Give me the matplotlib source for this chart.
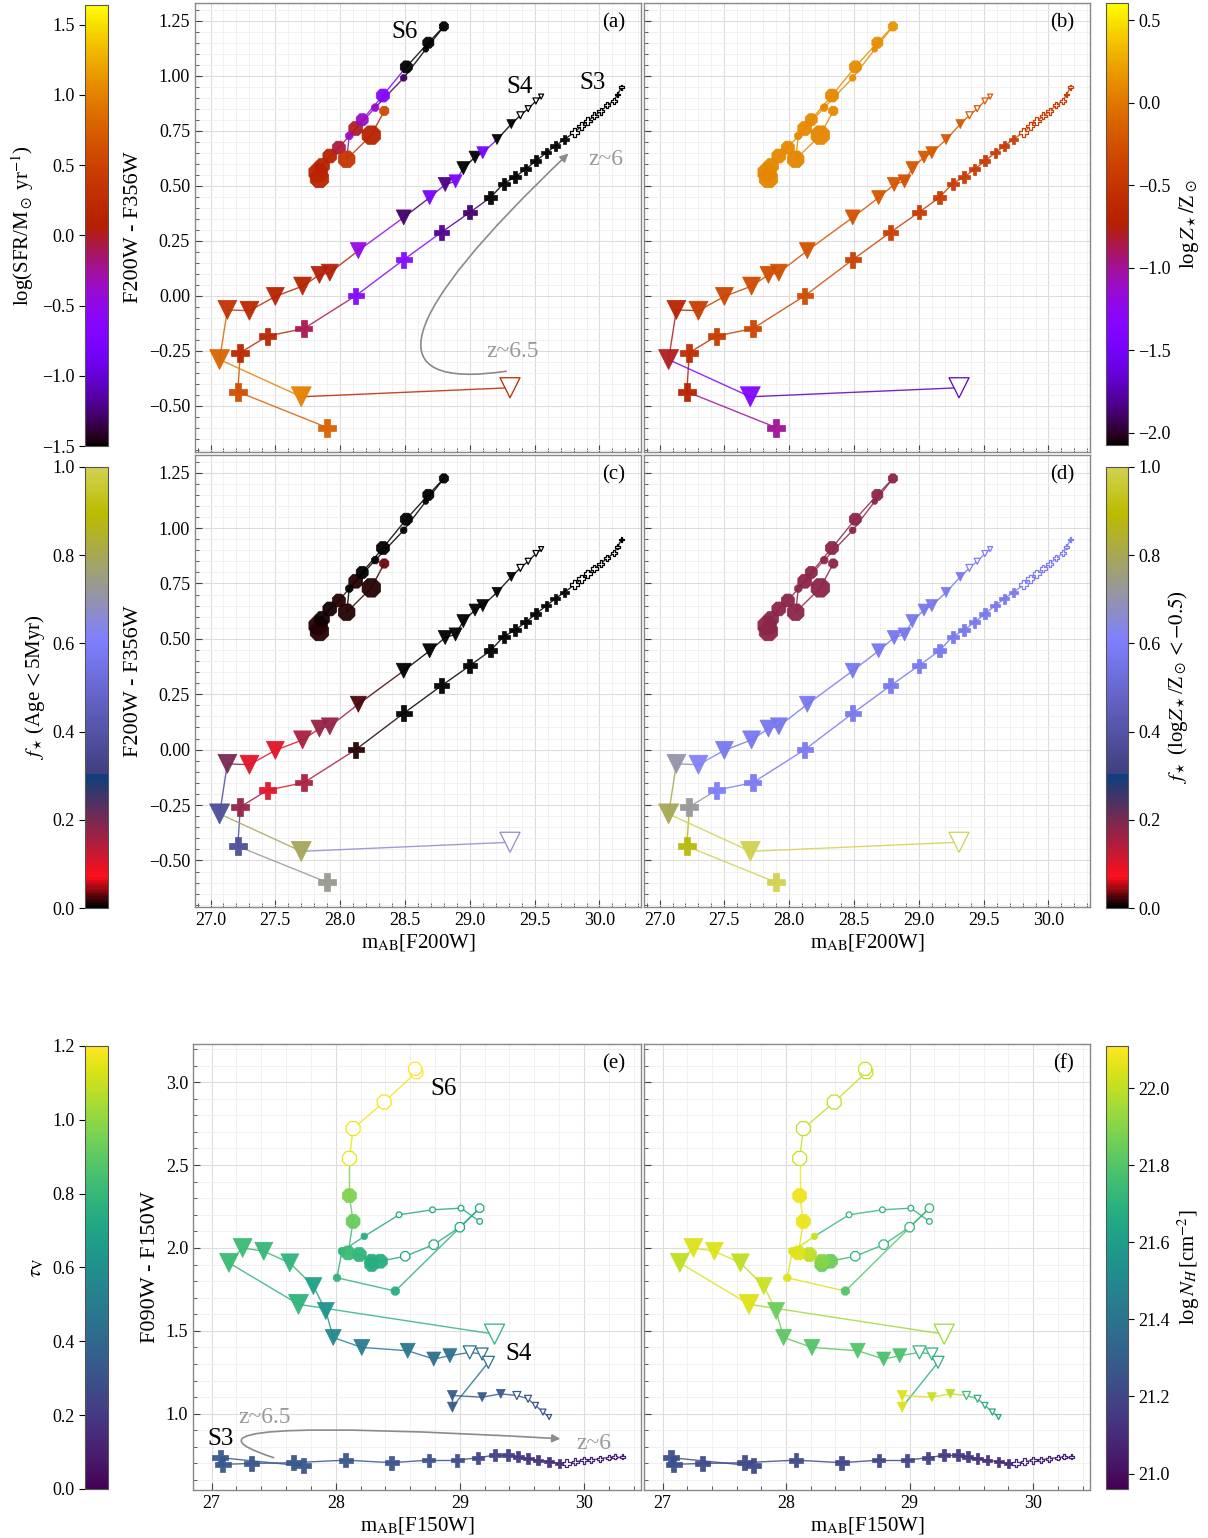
import numpy as np
import matplotlib
matplotlib.use("Agg")
import matplotlib.pyplot as plt
from matplotlib.colors import Normalize, ListedColormap
from matplotlib.collections import LineCollection
from matplotlib.patches import FancyArrowPatch
from matplotlib.path import Path
from matplotlib.ticker import MultipleLocator
from matplotlib.cm import ScalarMappable

plt.rcParams['font.family'] = ['Liberation Serif', 'DejaVu Serif']
plt.rcParams['mathtext.fontset'] = 'stix'

# ---------------- data: F200W vs F200W-F356W (panels a-d) ----------------
s6_x = [27.84, 27.83, 27.86, 27.92, 27.99, 28.12, 28.17, 28.33, 28.51, 28.68,
        28.80, 28.66, 28.49, 28.27, 28.07, 28.05, 28.24, 28.34]
s6_y = [0.533, 0.560, 0.590, 0.635, 0.673, 0.760, 0.800, 0.910, 1.040, 1.150,
        1.224, 1.120, 0.990, 0.855, 0.727, 0.620, 0.730, 0.840]
s6_sfr = [0.15, 0.15, 0.12, 0.12, -0.05, 0.0, -0.35, -0.7, -1.6, -1.6,
          -1.6, -1.6, -1.3, -0.45, -0.35, 0.35, 0.1, 0.55]
s6_z = [0.08, 0.08, 0.1, 0.1, 0.1, 0.1, 0.1, 0.1, 0.12, 0.12,
        0.15, 0.12, 0.12, 0.1, 0.1, 0.08, 0.08, 0.1]
s6_fage = [0.012, 0.012, 0.008, 0.008, 0.012, 0.012, 0.0, 0.0, 0.0, 0.0,
           0.0, 0.0, 0.0, 0.0, 0.0, 0.015, 0.012, 0.035]
s6_fz = [0.18] * 18
s6_open = [0] * 18
s6_size = [20, 20, 16, 15, 14, 15, 13, 14, 13, 12, 10, 6, 7, 8, 8, 18, 20, 10]

s4_x = [29.31, 27.70, 27.07, 27.13, 27.30, 27.50, 27.71, 27.84, 27.92, 28.14,
        28.49, 28.69, 28.81, 28.89, 28.95, 29.04, 29.10, 29.21, 29.32, 29.39,
        29.45, 29.51, 29.55]
s4_y = [-0.418, -0.459, -0.290, -0.064, -0.068, -0.003, 0.044, 0.095, 0.105, 0.205,
        0.356, 0.446, 0.506, 0.520, 0.580, 0.630, 0.650, 0.710, 0.780, 0.820,
        0.850, 0.885, 0.905]
s4_sfr = [0.15, 1.0, 0.8, 0.32, 0.18, 0.1, 0.1, 0.05, 0.05, -0.46,
          -1.28, -0.81, -1.22, -0.75, -1.6, -1.6, -0.8, -1.6, -1.6, -1.6,
          -1.6, -1.6, -1.6]
s4_z = [-1.7, -1.4, -0.78, -0.68, -0.42, -0.35, -0.3, -0.28, -0.28, -0.25,
        -0.25, -0.22, -0.22, -0.25, -0.2, -0.2, -0.2, -0.2, -0.18, -0.18,
        -0.18, -0.18, -0.18]
s4_fage = [0.67, 0.79, 0.37, 0.2, 0.1, 0.1, 0.15, 0.17, 0.17, 0.02,
           0.0, 0.0, 0.0, 0.0, 0.0, 0.0, 0.0, 0.0, 0.0, 0.0, 0.0, 0.0, 0.0]
s4_fz = [1.0, 1.0, 0.8, 0.7, 0.62, 0.57, 0.57, 0.57, 0.57, 0.57,
         0.57, 0.57, 0.57, 0.57, 0.57, 0.57, 0.57, 0.58, 0.58, 0.6,
         0.6, 0.6, 0.6]
s4_open = [1] + [0] * 18 + [1] * 4
s4_size = [20, 20, 20, 19, 19, 18, 18, 17, 17, 16, 15, 14, 14, 13, 13, 12, 12,
           10, 9, 7, 6, 6, 5]

s3_x = [27.90, 27.21, 27.23, 27.44, 27.72, 28.12, 28.49, 28.78, 29.00, 29.16,
        29.26, 29.35, 29.43, 29.51, 29.59, 29.66, 29.73, 29.81, 29.86, 29.91,
        29.96, 30.01, 30.06, 30.11, 30.14, 30.17]
s3_y = [-0.599, -0.436, -0.258, -0.183, -0.149, 0.000, 0.164, 0.288, 0.379, 0.447,
        0.510, 0.540, 0.575, 0.613, 0.650, 0.681, 0.711, 0.744, 0.771, 0.794,
        0.817, 0.839, 0.865, 0.886, 0.915, 0.948]
s3_sfr = [0.76, 0.6, 0.18, 0.15, -0.09, -0.65, -0.65, -1.19, -1.28, -1.6,
          -1.6, -1.6, -1.6, -1.6, -1.6, -1.6, -1.6, -1.6, -1.6, -1.6,
          -1.6, -1.6, -1.6, -1.6, -1.6, -1.6]
s3_z = [-1.0, -0.72, -0.6, -0.45, -0.35, -0.3, -0.4, -0.42, -0.45, -0.45,
        -0.45, -0.45, -0.45, -0.45, -0.45, -0.45, -0.42, -0.4, -0.4, -0.4,
        -0.4, -0.4, -0.4, -0.4, -0.4, -0.4]
s3_fage = [0.73, 0.37, 0.17, 0.1, 0.15, 0.015, 0.0, 0.0, 0.0, 0.0,
           0.0, 0.0, 0.0, 0.0, 0.0, 0.0, 0.0, 0.0, 0.0, 0.0,
           0.0, 0.0, 0.0, 0.0, 0.0, 0.0]
s3_fz = [1.0, 0.88, 0.72, 0.6, 0.58, 0.58, 0.57, 0.57, 0.57, 0.57,
         0.57, 0.57, 0.57, 0.57, 0.57, 0.57, 0.58, 0.6, 0.6, 0.6,
         0.6, 0.6, 0.6, 0.6, 0.6, 0.6]
s3_open = [0] * 17 + [1] * 9
s3_size = [18, 18, 18, 17, 17, 16, 16, 15, 14, 13, 12, 12, 11, 11, 10, 10, 9,
           9, 8, 8, 7, 7, 6, 6, 5, 5]

# ---------------- data: F150W vs F090W-F150W (panels e-f) ----------------
b6_x = [29.16, 29.01, 28.78, 28.51, 28.23, 28.05, 28.01, 28.48, 29.16, 29.00,
        28.79, 28.56, 28.36, 28.29, 28.29, 28.19, 28.10, 28.14, 28.11, 28.11,
        28.14, 28.39, 28.65, 28.64]
b6_y = [2.16, 2.24, 2.23, 2.20, 2.07, 1.98, 1.82, 1.74, 2.24, 2.125,
        2.02, 1.95, 1.92, 1.90, 1.92, 1.96, 1.97, 2.16, 2.315, 2.54,
        2.72, 2.88, 3.06, 3.08]
b6_tau = [0.72, 0.72, 0.72, 0.72, 0.75, 0.75, 0.78, 0.75, 0.72, 0.72,
          0.72, 0.72, 0.75, 0.75, 0.75, 0.78, 0.82, 0.92, 0.97, 1.15,
          1.17, 1.18, 1.2, 1.2]
b6_nh = [21.7, 21.7, 21.72, 21.72, 22.02, 22.05, 22.05, 21.8, 21.72, 21.72,
         21.72, 21.72, 21.85, 21.85, 21.9, 22.0, 22.05, 22.07, 22.08, 22.02,
         22.0, 22.0, 22.02, 22.02]
b6_open = [1, 1, 1, 1, 0, 0, 0, 0, 1, 1, 1, 1, 0, 0, 0, 0, 0, 0, 0, 1, 1, 1, 1, 1]
b6_size = [6, 6, 6, 6, 7, 8, 8, 9, 9, 10, 10, 10, 15, 15, 15, 15, 15, 15, 15,
           15, 15, 15, 14, 14]

b4_x = [29.28, 27.70, 27.14, 27.25, 27.42, 27.63, 27.82, 27.92, 27.98, 28.21,
        28.58, 28.79, 28.92, 29.08, 29.18, 29.23, 28.94, 28.94, 29.18, 29.33,
        29.46, 29.55, 29.61, 29.67, 29.72]
b4_y = [1.48, 1.66, 1.91, 2.00, 1.98, 1.91, 1.77, 1.62, 1.46, 1.40,
        1.38, 1.33, 1.35, 1.37, 1.36, 1.31, 1.04, 1.11, 1.10, 1.12,
        1.11, 1.09, 1.05, 1.01, 0.98]
b4_tau = [0.78, 0.78, 0.82, 0.82, 0.8, 0.78, 0.68, 0.62, 0.55, 0.5,
          0.48, 0.45, 0.45, 0.45, 0.45, 0.43, 0.33, 0.33, 0.33, 0.33,
          0.33, 0.32, 0.32, 0.31, 0.3]
b4_nh = [21.95, 22.05, 22.0, 22.05, 22.05, 22.0, 22.02, 21.85, 21.82, 21.8,
         21.8, 21.78, 21.78, 21.72, 21.72, 21.7, 22.05, 22.05, 22.02, 22.0,
         21.75, 21.7, 21.68, 21.65, 21.62]
b4_open = [1] + [0] * 12 + [1] * 3 + [0] * 4 + [1] * 5
b4_size = [20, 20, 19, 19, 18, 18, 17, 17, 16, 16, 15, 14, 14, 13, 12, 12, 10,
           10, 9, 9, 8, 7, 6, 6, 5]

b3_x = [27.74, 27.07, 27.09, 27.32, 27.66, 28.08, 28.45, 28.75, 28.98, 29.15,
        29.28, 29.39, 29.47, 29.55, 29.63, 29.72, 29.80, 29.86, 29.93, 30.00,
        30.06, 30.13, 30.20, 30.25, 30.31]
b3_y = [0.685, 0.735, 0.695, 0.700, 0.705, 0.720, 0.705, 0.720, 0.720, 0.735,
        0.750, 0.750, 0.740, 0.730, 0.720, 0.710, 0.700, 0.700, 0.710, 0.720,
        0.720, 0.730, 0.735, 0.740, 0.740]
b3_tau = [0.32, 0.33, 0.33, 0.32, 0.32, 0.32, 0.31, 0.3, 0.28, 0.25,
          0.23, 0.22, 0.2, 0.18, 0.17, 0.16, 0.15, 0.14, 0.14, 0.13,
          0.13, 0.12, 0.12, 0.12, 0.12]
b3_nh = [21.22, 21.24, 21.24, 21.22, 21.22, 21.22, 21.2, 21.2, 21.2, 21.18,
         21.16, 21.15, 21.14, 21.12, 21.11, 21.1, 21.1, 21.08, 21.08, 21.07,
         21.07, 21.06, 21.06, 21.06, 21.06]
b3_open = [0] * 17 + [1] * 8
b3_size = [15, 16, 16, 15, 15, 14, 14, 13, 13, 12, 12, 12, 11, 11, 10, 10, 9,
           8, 7, 7, 6, 6, 5, 5, 5]

# ---------------- colormaps ----------------
cm_gnu = plt.get_cmap('gnuplot')
cm_frac = ListedColormap(plt.get_cmap('gist_stern')(np.linspace(0, 0.82, 256)))
cm_vir = plt.get_cmap('viridis')

norm_sfr = Normalize(-1.5, 1.64)
norm_z = Normalize(-2.075, 0.603)
norm_frac = Normalize(0.0, 1.0)
norm_tau = Normalize(0.0, 1.2)
norm_nh = Normalize(20.96, 22.11)


def draw_track(ax, x, y, val, size, hollow, marker, cmap, norm):
    x = np.array(x)
    y = np.array(y)
    cols = cmap(norm(np.array(val)))
    hollow = np.array(hollow, dtype=bool)
    segs = [[(x[i], y[i]), (x[i + 1], y[i + 1])] for i in range(len(x) - 1)]
    ax.add_collection(LineCollection(segs, colors=cols[:-1], linewidths=1.0,
                                     alpha=0.85, zorder=2))
    s = (0.72 * np.array(size)) ** 2
    ax.scatter(x[~hollow], y[~hollow], s=s[~hollow], marker=marker,
               c=cols[~hollow], edgecolors=cols[~hollow], linewidths=0.5,
               alpha=0.95, zorder=3)
    ax.scatter(x[hollow], y[hollow], s=s[hollow], marker=marker,
               facecolors='white', edgecolors=cols[hollow], linewidths=0.9, zorder=3)


def style_axes(ax, top):
    ax.set_axisbelow(True)
    if top:
        ax.set_xlim(26.88, 30.32)
        ax.set_ylim(-0.71, 1.33)
        ax.xaxis.set_major_locator(MultipleLocator(0.5))
        ax.xaxis.set_minor_locator(MultipleLocator(0.1))
        ax.yaxis.set_major_locator(MultipleLocator(0.25))
        ax.yaxis.set_minor_locator(MultipleLocator(0.05))
    else:
        ax.set_xlim(26.85, 30.46)
        ax.set_ylim(0.54, 3.23)
        ax.xaxis.set_major_locator(MultipleLocator(1.0))
        ax.xaxis.set_minor_locator(MultipleLocator(0.2))
        ax.yaxis.set_major_locator(MultipleLocator(0.5))
        ax.yaxis.set_minor_locator(MultipleLocator(0.1))
    ax.grid(which='major', color='#dcdcdc', lw=0.8)
    ax.grid(which='minor', color='#efefef', lw=0.6)
    ax.tick_params(which='both', direction='in', colors='#444444', labelcolor='black',
                   labelsize=13)
    ax.tick_params(which='major', length=5)
    ax.tick_params(which='minor', length=3)
    for sp in ax.spines.values():
        sp.set_color('#888888')
        sp.set_linewidth(1.0)


def curved_arrow(ax, p0, pc, p1):
    path = Path([p0, pc, p1], [Path.MOVETO, Path.CURVE3, Path.CURVE3])
    arr = FancyArrowPatch(path=path, arrowstyle='-|>', mutation_scale=12,
                          color='#8a8a8a', lw=1.2, zorder=4)
    ax.add_patch(arr)


fig = plt.figure(figsize=(12.08, 15.38), dpi=100)

ax_a = fig.add_axes([0.1614, 0.7061, 0.3692, 0.2919])
ax_b = fig.add_axes([0.5331, 0.7061, 0.3692, 0.2919])
ax_c = fig.add_axes([0.1614, 0.4103, 0.3692, 0.2939])
ax_d = fig.add_axes([0.5331, 0.4103, 0.3692, 0.2939])
ax_e = fig.add_axes([0.1598, 0.0312, 0.3708, 0.2900])
ax_f = fig.add_axes([0.5331, 0.0312, 0.3692, 0.2900])

top_panels = [
    (ax_a, s6_sfr, s4_sfr, s3_sfr, cm_gnu, norm_sfr, '(a)'),
    (ax_b, s6_z, s4_z, s3_z, cm_gnu, norm_z, '(b)'),
    (ax_c, s6_fage, s4_fage, s3_fage, cm_frac, norm_frac, '(c)'),
    (ax_d, s6_fz, s4_fz, s3_fz, cm_frac, norm_frac, '(d)'),
]
for ax, c6, c4, c3, cmap, norm, lab in top_panels:
    style_axes(ax, True)
    draw_track(ax, s3_x, s3_y, c3, s3_size, s3_open, 'P', cmap, norm)
    draw_track(ax, s4_x, s4_y, c4, s4_size, s4_open, 'v', cmap, norm)
    draw_track(ax, s6_x, s6_y, c6, s6_size, s6_open, '8', cmap, norm)
    ax.text(0.965, 0.955, lab, transform=ax.transAxes, ha='right', va='center',
            fontsize=15)

bottom_panels = [
    (ax_e, b6_tau, b4_tau, b3_tau, cm_vir, norm_tau, '(e)'),
    (ax_f, b6_nh, b4_nh, b3_nh, cm_vir, norm_nh, '(f)'),
]
for ax, c6, c4, c3, cmap, norm, lab in bottom_panels:
    style_axes(ax, False)
    draw_track(ax, b3_x, b3_y, c3, b3_size, b3_open, 'P', cmap, norm)
    draw_track(ax, b4_x, b4_y, c4, b4_size, b4_open, 'v', cmap, norm)
    draw_track(ax, b6_x, b6_y, c6, b6_size, b6_open, '8', cmap, norm)
    ax.text(0.965, 0.955, lab, transform=ax.transAxes, ha='right', va='center',
            fontsize=15)

# tick labels
for ax in [ax_a, ax_b]:
    ax.tick_params(labelbottom=False)
for ax in [ax_b, ax_d, ax_f]:
    ax.tick_params(labelleft=False)

ax_a.set_ylabel('F200W - F356W', fontsize=16)
ax_c.set_ylabel('F200W - F356W', fontsize=16)
ax_e.set_ylabel('F090W - F150W', fontsize=16)
ax_c.set_xlabel(r'm$_{\rm AB}$[F200W]', fontsize=15, labelpad=2)
ax_d.set_xlabel(r'm$_{\rm AB}$[F200W]', fontsize=15, labelpad=2)
ax_e.set_xlabel(r'm$_{\rm AB}$[F150W]', fontsize=15, labelpad=2)
ax_f.set_xlabel(r'm$_{\rm AB}$[F150W]', fontsize=15, labelpad=2)

# annotations in (a)
ax_a.text(28.50, 1.20, 'S6', fontsize=18, ha='center', va='center')
ax_a.text(29.38, 0.95, 'S4', fontsize=18, ha='center', va='center')
ax_a.text(29.95, 0.967, 'S3', fontsize=18, ha='center', va='center')
ax_a.text(30.05, 0.62, 'z~6', fontsize=17, color='#999999', ha='center', va='center')
ax_a.text(29.33, -0.255, 'z~6.5', fontsize=17, color='#999999', ha='center', va='center')
curved_arrow(ax_a, (29.28, -0.343), (27.76, -0.474), (29.76, 0.646))

# annotations in (e)
ax_e.text(28.87, 2.96, 'S6', fontsize=18, ha='center', va='center')
ax_e.text(29.47, 1.36, 'S4', fontsize=18, ha='center', va='center')
ax_e.text(27.07, 0.85, 'S3', fontsize=18, ha='center', va='center')
ax_e.text(27.43, 0.98, 'z~6.5', fontsize=17, color='#999999', ha='center', va='center')
ax_e.text(30.08, 0.82, 'z~6', fontsize=17, color='#999999', ha='center', va='center')
curved_arrow(ax_e, (27.50, 0.735), (26.42, 0.996), (29.81, 0.849))

# colorbars
cbar_specs = [
    ([0.0704, 0.7100, 0.0190, 0.2867], cm_gnu, norm_sfr, np.arange(-1.5, 1.51, 0.5),
     r'log(SFR/M$_\odot$ yr$^{-1}$)', 'left'),
    ([0.9156, 0.7107, 0.0182, 0.2873], cm_gnu, norm_z, np.arange(-2.0, 0.51, 0.5),
     r'log$\,Z_\star/$Z$_\odot$', 'right'),
    ([0.0704, 0.4096, 0.0190, 0.2868], cm_frac, norm_frac, np.arange(0.0, 1.01, 0.2),
     r'$f_\star\,$(Age$\,<$5Myr)', 'left'),
    ([0.9156, 0.4096, 0.0182, 0.2868], cm_frac, norm_frac, np.arange(0.0, 1.01, 0.2),
     r'$f_\star$ (log$Z_\star$/Z$_\odot<-0.5$)', 'right'),
    ([0.0704, 0.0319, 0.0190, 0.2880], cm_vir, norm_tau, np.arange(0.0, 1.21, 0.2),
     r'$\tau_{\rm V}$', 'left'),
    ([0.9156, 0.0319, 0.0182, 0.2880], cm_vir, norm_nh, np.arange(21.0, 22.01, 0.2),
     r'log$\,N_H\,$[cm$^{-2}$]', 'right'),
]
for rect, cmap, norm, ticks, label, side in cbar_specs:
    cax = fig.add_axes(rect)
    cb = fig.colorbar(ScalarMappable(norm=norm, cmap=cmap), cax=cax)
    cb.set_ticks(ticks)
    cb.outline.set_edgecolor('#555555')
    cax.tick_params(labelsize=13, length=4)
    if side == 'left':
        cax.yaxis.tick_left()
        cax.yaxis.set_label_position('left')
    cb.set_label(label, fontsize=15)

fig.savefig('out.png', dpi=100)
